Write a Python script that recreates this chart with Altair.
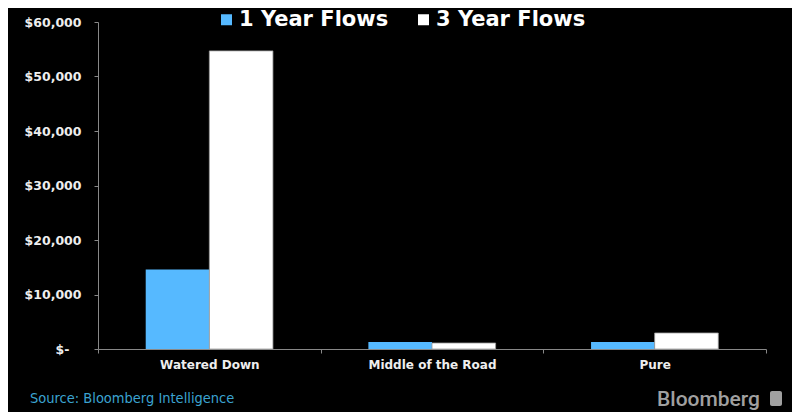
import altair as alt
import pandas as pd

categories = ["Watered Down", "Middle of the Road", "Pure"]
series = ["1 Year Flows", "3 Year Flows"]
flows_1y = [14600, 1280, 1280]
flows_3y = [54700, 1100, 2940]
y_ticks = [0, 10000, 20000, 30000, 40000, 50000, 60000]
colors = ["#56B9FF", "#FFFFFF"]

rows = []
for i, c in enumerate(categories):
    rows.append({"category": c, "series": series[0], "value": flows_1y[i]})
    rows.append({"category": c, "series": series[1], "value": flows_3y[i]})
df = pd.DataFrame(rows)

bars = alt.Chart(df).mark_bar(stroke="#9a9a9a", strokeWidth=0.8).encode(
    x=alt.X("category:N", sort=categories, title=None,
            scale=alt.Scale(paddingInner=0, paddingOuter=0),
            axis=alt.Axis(labelAngle=0, tickBand="extent", tickSize=4, labelPadding=6,
                          labelFont="DejaVu Sans", labelFontWeight="bold", labelFontSize=12,
                          labelColor="#EEEEEE", domainColor="#888888", tickColor="#888888")),
    xOffset=alt.XOffset("series:N", sort=series,
                        scale=alt.Scale(paddingInner=0, paddingOuter=0.75)),
    y=alt.Y("value:Q", title=None,
            scale=alt.Scale(domain=[0, 60000], nice=False),
            axis=alt.Axis(values=y_ticks, grid=False, tickSize=4,
                          labelPadding={"condition": {"test": "datum.value == 0", "value": 25}, "value": 13},
                          labelExpr="datum.value == 0 ? '$-' : '$' + format(datum.value, ',')",
                          labelFont="DejaVu Sans", labelFontWeight="bold", labelFontSize=12.5,
                          labelColor="#EEEEEE", domainColor="#888888", tickColor="#888888")),
    strokeOpacity=alt.StrokeOpacity("series:N", sort=series,
                                    scale=alt.Scale(domain=series, range=[0, 1]), legend=None),
    color=alt.Color("series:N", sort=series,
                    scale=alt.Scale(domain=series, range=colors),
                    legend=alt.Legend(title=None, orient="none", direction="horizontal",
                                      legendX=118, legendY=-13,
                                      symbolType="square", symbolSize=121, symbolStrokeWidth=0,
                                      labelFont="DejaVu Sans", labelFontWeight="bold",
                                      labelFontSize=21, labelColor="#FFFFFF",
                                      labelOffset=2, columnPadding=24)),
)

source = alt.Chart(pd.DataFrame({"t": ["Source: Bloomberg Intelligence"]})).mark_text(
    align="left", baseline="middle", font="DejaVu Sans Condensed", fontSize=14.5,
    color="#3BA3D0").encode(text="t:N", x=alt.value(-68), y=alt.value(377))

brand = alt.Chart(pd.DataFrame({"t": ["Bloomberg"]})).mark_text(
    align="right", baseline="middle", font="Roboto", fontSize=21, fontWeight=500,
    color="#A0A0A0").encode(text="t:N", x=alt.value(662), y=alt.value(378))

icon = alt.Chart(pd.DataFrame({"t": [1]})).mark_rect(
    color="#A0A0A0", cornerRadius=2).encode(
    x=alt.value(672), x2=alt.value(684), y=alt.value(369), y2=alt.value(384))

chart = alt.layer(bars, source, brand, icon).properties(
    width=668, height=327,
    padding={"left": 90, "top": 14, "right": 26, "bottom": 63},
    autosize=alt.AutoSizeParams(type="none"),
    background="#000000",
).configure_view(stroke=None)

chart.save("out.html", embed_options={"renderer": "svg", "actions": False})
